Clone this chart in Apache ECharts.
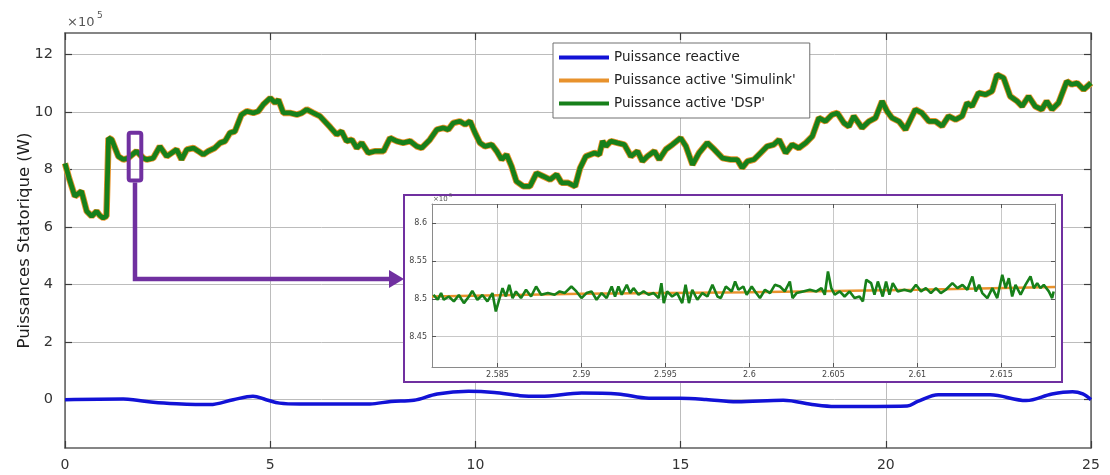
<!DOCTYPE html>
<html>
<head>
<meta charset="utf-8">
<script src="https://cdn.jsdelivr.net/npm/echarts@6/dist/echarts.min.js"></script>
<style>
  html, body { margin: 0; padding: 0; background: #ffffff; }
  #chart { width: 1110px; height: 475px; }
</style>
</head>
<body>
<div id="chart"></div>
<script>
// Stator powers, values in units of 1e5 W, time in seconds.
const seriesNames = ['Puissance reactive', "Puissance active 'Simulink'", "Puissance active 'DSP'"];

// Active power over the whole run (Simulink and DSP overlap at this scale)
const activeTime = [
  0.00, 0.10, 0.24, 0.40, 0.53, 0.65, 0.77, 0.85, 0.93, 1.01, 1.06, 1.14, 1.30, 1.42, 1.54, 1.74,
  1.91, 1.99, 2.15, 2.31, 2.48, 2.60, 2.72, 2.84, 2.97, 3.13, 3.25, 3.37, 3.49, 3.65, 3.78, 3.90,
  4.02, 4.14, 4.30, 4.43, 4.59, 4.71, 4.83, 5.00, 5.12, 5.20, 5.32, 5.48, 5.65, 5.77, 5.89, 6.05,
  6.21, 6.46, 6.62, 6.74, 6.86, 6.99, 7.11, 7.23, 7.39, 7.55, 7.76, 7.92, 8.08, 8.24, 8.41, 8.57,
  8.69, 8.89, 9.06, 9.22, 9.34, 9.46, 9.62, 9.75, 9.87, 9.99, 10.11, 10.23, 10.40, 10.52, 10.64, 10.76,
  10.88, 11.00, 11.17, 11.33, 11.49, 11.65, 11.82, 11.98, 12.10, 12.26, 12.43, 12.55, 12.69, 12.90, 13.02, 13.10,
  13.18, 13.30, 13.46, 13.63, 13.79, 13.95, 14.07, 14.19, 14.36, 14.48, 14.64, 14.80, 15.00, 15.13, 15.29, 15.45,
  15.65, 15.82, 16.02, 16.22, 16.38, 16.50, 16.63, 16.79, 16.95, 17.11, 17.27, 17.40, 17.56, 17.72, 17.88, 18.05,
  18.21, 18.37, 18.53, 18.69, 18.82, 18.98, 19.10, 19.22, 19.42, 19.59, 19.75, 19.91, 20.03, 20.15, 20.32, 20.48,
  20.72, 20.88, 21.05, 21.21, 21.37, 21.53, 21.70, 21.86, 21.98, 22.10, 22.26, 22.43, 22.59, 22.71, 22.87, 23.03,
  23.20, 23.32, 23.48, 23.64, 23.80, 23.92, 24.05, 24.21, 24.41, 24.53, 24.66, 24.82, 25.00
];
const activePower = [
  8.22, 7.70, 7.07, 7.25, 6.55, 6.38, 6.55, 6.40, 6.32, 6.38, 9.10, 9.04, 8.46, 8.35, 8.40, 8.64,
  8.40, 8.35, 8.40, 8.81, 8.46, 8.58, 8.70, 8.35, 8.70, 8.75, 8.64, 8.52, 8.64, 8.75, 8.93, 8.99,
  9.28, 9.33, 9.91, 10.03, 9.97, 10.03, 10.26, 10.49, 10.32, 10.43, 9.97, 9.97, 9.91, 9.97, 10.09, 9.97,
  9.86, 9.48, 9.22, 9.33, 8.99, 9.04, 8.75, 8.93, 8.58, 8.64, 8.64, 9.10, 8.99, 8.93, 8.99, 8.81,
  8.75, 9.04, 9.39, 9.45, 9.39, 9.62, 9.68, 9.57, 9.68, 9.28, 8.93, 8.81, 8.87, 8.64, 8.35, 8.52,
  8.12, 7.59, 7.42, 7.42, 7.88, 7.77, 7.65, 7.83, 7.54, 7.54, 7.42, 8.05, 8.46, 8.58, 8.52, 8.99,
  8.81, 8.99, 8.93, 8.87, 8.46, 8.64, 8.29, 8.46, 8.64, 8.35, 8.70, 8.87, 9.10, 8.81, 8.17, 8.58,
  8.93, 8.70, 8.40, 8.35, 8.35, 8.06, 8.29, 8.35, 8.58, 8.81, 8.87, 9.04, 8.58, 8.87, 8.75, 8.93,
  9.16, 9.80, 9.68, 9.91, 9.97, 9.62, 9.50, 9.86, 9.45, 9.68, 9.80, 10.38, 10.03, 9.80, 9.68, 9.39,
  10.09, 9.97, 9.68, 9.68, 9.51, 9.86, 9.74, 9.86, 10.32, 10.20, 10.67, 10.61, 10.73, 11.30, 11.19, 10.55,
  10.38, 10.20, 10.55, 10.20, 10.09, 10.38, 10.09, 10.32, 11.07, 10.96, 11.01, 10.78, 11.01
];

// Reactive power over the whole run
const reactiveTime = [
  0.00, 1.42, 1.66, 2.15, 2.72, 3.53, 4.10, 4.58, 4.90, 5.23, 5.72, 7.43, 7.94, 8.50, 9.07, 9.83,
  10.46, 11.09, 11.59, 12.59, 13.47, 14.23, 14.98, 15.62, 16.37, 17.50, 18.26, 18.76, 20.52, 20.78, 21.28, 22.54,
  23.42, 24.05, 24.55, 24.80, 25.00
];
const reactivePower = [
  0.00, 0.02, 0.00, -0.09, -0.14, -0.17, 0.00, 0.12, 0.00, -0.12, -0.15, -0.15, -0.06, -0.02, 0.20, 0.29,
  0.25, 0.14, 0.12, 0.23, 0.20, 0.05, 0.05, 0.01, -0.07, -0.02, -0.18, -0.24, -0.22, -0.06, 0.17, 0.17,
  -0.03, 0.20, 0.28, 0.20, 0.00
];

// Zoomed window around t = 2.6 s
const zoomSimTime = [2.5811, 2.5900, 2.6000, 2.6100, 2.6182];
const zoomSim = [8.5030, 8.5065, 8.5085, 8.5120, 8.5155];

const zoomTime = [
  2.58119, 2.58144, 2.58164, 2.58180, 2.58210, 2.58240, 2.58270, 2.58300, 2.58330, 2.58350, 2.58380, 2.58410,
  2.58440, 2.58470, 2.58490, 2.58510, 2.58530, 2.58550, 2.58570, 2.58590, 2.58610, 2.58640, 2.58670, 2.58700,
  2.58730, 2.58760, 2.58800, 2.58840, 2.58870, 2.58900, 2.58940, 2.58970, 2.59000, 2.59030, 2.59060, 2.59090,
  2.59120, 2.59150, 2.59180, 2.59200, 2.59220, 2.59240, 2.59270, 2.59290, 2.59310, 2.59340, 2.59370, 2.59400,
  2.59430, 2.59460, 2.59476, 2.59490, 2.59510, 2.59540, 2.59570, 2.59600, 2.59620, 2.59640, 2.59660, 2.59690,
  2.59720, 2.59750, 2.59780, 2.59810, 2.59830, 2.59860, 2.59895, 2.59915, 2.59935, 2.59964, 2.59984, 2.60014,
  2.60034, 2.60063, 2.60093, 2.60123, 2.60152, 2.60182, 2.60211, 2.60241, 2.60257, 2.60281, 2.60320, 2.60360,
  2.60399, 2.60429, 2.60449, 2.60468, 2.60488, 2.60508, 2.60538, 2.60567, 2.60597, 2.60626, 2.60656, 2.60676,
  2.60696, 2.60725, 2.60745, 2.60765, 2.60794, 2.60814, 2.60834, 2.60854, 2.60883, 2.60923, 2.60962, 2.60992,
  2.61022, 2.61051, 2.61081, 2.61111, 2.61140, 2.61170, 2.61209, 2.61239, 2.61269, 2.61298, 2.61328, 2.61348,
  2.61368, 2.61387, 2.61417, 2.61447, 2.61476, 2.61506, 2.61526, 2.61545, 2.61565, 2.61585, 2.61615, 2.61644,
  2.61674, 2.61694, 2.61714, 2.61733, 2.61753, 2.61783, 2.61803, 2.61812
];
const zoomDsp = [
  8.5053, 8.4987, 8.5075, 8.4987, 8.5030, 8.4965, 8.5050, 8.4943, 8.5030, 8.5105, 8.4987, 8.5050,
  8.4965, 8.5075, 8.4833, 8.4987, 8.5140, 8.5030, 8.5184, 8.5009, 8.5097, 8.5009, 8.5119, 8.5030,
  8.5162, 8.5053, 8.5075, 8.5053, 8.5097, 8.5075, 8.5162, 8.5097, 8.5009, 8.5075, 8.5097, 8.4987,
  8.5075, 8.5009, 8.5162, 8.5030, 8.5162, 8.5053, 8.5184, 8.5075, 8.5140, 8.5053, 8.5097, 8.5053,
  8.5075, 8.5009, 8.5206, 8.4943, 8.5097, 8.5030, 8.5075, 8.4943, 8.5184, 8.4943, 8.5119, 8.4987,
  8.5075, 8.5030, 8.5184, 8.5030, 8.5009, 8.5162, 8.5097, 8.5228, 8.5119, 8.5162, 8.5053, 8.5162,
  8.5097, 8.5009, 8.5119, 8.5075, 8.5184, 8.5162, 8.5097, 8.5228, 8.5009, 8.5075, 8.5097, 8.5119,
  8.5097, 8.5140, 8.5053, 8.5360, 8.5140, 8.5053, 8.5097, 8.5030, 8.5097, 8.5009, 8.5030, 8.4965,
  8.5250, 8.5206, 8.5053, 8.5228, 8.5030, 8.5228, 8.5053, 8.5206, 8.5097, 8.5119, 8.5097, 8.5184,
  8.5097, 8.5140, 8.5075, 8.5140, 8.5075, 8.5119, 8.5206, 8.5140, 8.5184, 8.5119, 8.5294, 8.5097,
  8.5184, 8.5075, 8.5009, 8.5140, 8.5009, 8.5316, 8.5140, 8.5272, 8.5030, 8.5184, 8.5053, 8.5184,
  8.5294, 8.5140, 8.5206, 8.5140, 8.5184, 8.5097, 8.5009, 8.5097
];

// Tick positions
const mainXTicks = [0, 5, 10, 15, 20, 25];
const mainYTicks = [0, 2, 4, 6, 8, 10, 12];
const zoomXTicks = [2.585, 2.59, 2.595, 2.6, 2.605, 2.61, 2.615];
const zoomYTicks = [8.45, 8.5, 8.55, 8.6];

// Region of the main trace that the inset enlarges, and the arrow level
const markTime = [1.552, 1.859];
const markPower = [7.62, 9.28];
const arrowLevel = 4.2;

const FONT = 'DejaVu Sans';
const PURPLE = '#7030a0';
const C_BLUE = '#1212d6';
const C_ORANGE = '#e8922c';
const C_GREEN = '#17801a';

const zip = (xs, ys) => xs.map((x, i) => [x, ys[i]]);

const chart = echarts.init(document.getElementById('chart'), null, { renderer: 'canvas' });

function boxAxis(gridIndex, position, extra) {
  return Object.assign({
    gridIndex, type: 'value', position,
    axisLine: { show: true, onZero: false, lineStyle: { color: '#5e5e5e', width: 1.5 } },
    axisTick: { show: true, inside: true, length: 7, lineStyle: { color: '#3c3c3c', width: 1.2 } },
    axisLabel: { show: false },
    splitLine: { show: false }
  }, extra);
}

const fmtZoom = v => String(parseFloat(Number(v).toFixed(4)));

const option = {
  animation: false,
  backgroundColor: '#ffffff',
  textStyle: { fontFamily: FONT },
  grid: [
    { left: 65, top: 33, right: 19, bottom: 27, containLabel: false },
    { left: 432, top: 204, right: 55, bottom: 108, containLabel: false }
  ],
  legend: {
    data: seriesNames,
    orient: 'vertical',
    left: 553, top: 43,
    icon: 'rect',
    itemWidth: 50, itemHeight: 4, itemGap: 8,
    padding: [7, 14, 7, 6],
    backgroundColor: '#ffffff',
    borderColor: '#707070', borderWidth: 1,
    selectedMode: false,
    textStyle: { fontFamily: FONT, fontSize: 13.5, color: '#222', lineHeight: 15 }
  },
  xAxis: [
    boxAxis(0, 'bottom', {
      min: 0, max: 25,
      axisTick: { show: true, inside: true, length: 7, customValues: mainXTicks, lineStyle: { color: '#3c3c3c', width: 1.2 } },
      axisLabel: { show: true, customValues: mainXTicks, fontSize: 14, color: '#333', margin: 10, fontFamily: FONT },
      splitLine: { show: true, lineStyle: { color: '#bcbcbc', width: 1 } }
    }),
    boxAxis(0, 'top', {
      min: 0, max: 25,
      axisTick: { show: true, inside: true, length: 7, customValues: mainXTicks, lineStyle: { color: '#3c3c3c', width: 1.2 } }
    }),
    boxAxis(1, 'bottom', {
      min: 2.5811, max: 2.6182, z: 12,
      axisLine: { show: true, onZero: false, lineStyle: { color: '#8a8a8a', width: 1 } },
      axisTick: { show: true, inside: true, length: 4, customValues: zoomXTicks, lineStyle: { color: '#555', width: 1 } },
      axisLabel: { show: true, customValues: zoomXTicks, formatter: fmtZoom, fontSize: 8, color: '#444', margin: 4, fontFamily: FONT },
      splitLine: { show: true, lineStyle: { color: '#c8c8c8', width: 1 } }
    }),
    boxAxis(1, 'top', {
      min: 2.5811, max: 2.6182, z: 12,
      axisLine: { show: true, onZero: false, lineStyle: { color: '#8a8a8a', width: 1 } },
      axisTick: { show: true, inside: true, length: 4, customValues: zoomXTicks, lineStyle: { color: '#555', width: 1 } }
    })
  ],
  yAxis: [
    boxAxis(0, 'left', {
      min: -1.68, max: 12.75,
      axisTick: { show: true, inside: true, length: 7, customValues: mainYTicks, lineStyle: { color: '#3c3c3c', width: 1.2 } },
      axisLabel: { show: true, customValues: mainYTicks, fontSize: 14.5, color: '#333', margin: 12, fontFamily: FONT },
      splitLine: { show: true, lineStyle: { color: '#bcbcbc', width: 1 } },
      name: 'Puissances Statorique (W)',
      nameLocation: 'middle', nameRotate: 90, nameGap: 32, nameMoveOverlap: false,
      nameTextStyle: { fontSize: 16.5, color: '#1e1e1e', fontFamily: FONT }
    }),
    boxAxis(0, 'right', {
      min: -1.68, max: 12.75,
      axisTick: { show: true, inside: true, length: 7, customValues: mainYTicks, lineStyle: { color: '#3c3c3c', width: 1.2 } }
    }),
    boxAxis(1, 'left', {
      min: 8.41, max: 8.625, z: 12,
      axisLine: { show: true, onZero: false, lineStyle: { color: '#8a8a8a', width: 1 } },
      axisTick: { show: true, inside: true, length: 4, customValues: zoomYTicks, lineStyle: { color: '#555', width: 1 } },
      axisLabel: { show: true, customValues: zoomYTicks, formatter: fmtZoom, fontSize: 8, color: '#444', margin: 5, fontFamily: FONT },
      splitLine: { show: true, lineStyle: { color: '#c8c8c8', width: 1 } }
    }),
    boxAxis(1, 'right', {
      min: 8.41, max: 8.625, z: 12,
      axisLine: { show: true, onZero: false, lineStyle: { color: '#8a8a8a', width: 1 } },
      axisTick: { show: true, inside: true, length: 4, customValues: zoomYTicks, lineStyle: { color: '#555', width: 1 } }
    })
  ],
  series: [
    {
      name: seriesNames[0], type: 'line', xAxisIndex: 0, yAxisIndex: 0,
      data: zip(reactiveTime, reactivePower), symbol: 'none', smooth: 0.35,
      lineStyle: { color: C_BLUE, width: 3.5 }, itemStyle: { color: C_BLUE }, z: 3
    },
    {
      name: seriesNames[1], type: 'line', xAxisIndex: 0, yAxisIndex: 0,
      data: zip(activeTime, activePower), symbol: 'none',
      lineStyle: { color: C_ORANGE, width: 6.5 }, itemStyle: { color: C_ORANGE }, z: 3
    },
    {
      name: seriesNames[2], type: 'line', xAxisIndex: 0, yAxisIndex: 0,
      data: zip(activeTime, activePower), symbol: 'none',
      lineStyle: { color: C_GREEN, width: 4.8 }, itemStyle: { color: C_GREEN }, z: 4
    },
    {
      name: seriesNames[1], type: 'line', xAxisIndex: 2, yAxisIndex: 2,
      data: zip(zoomSimTime, zoomSim), symbol: 'none',
      lineStyle: { color: C_ORANGE, width: 2.5 }, itemStyle: { color: C_ORANGE }, z: 13
    },
    {
      name: seriesNames[2], type: 'line', xAxisIndex: 2, yAxisIndex: 2,
      data: zip(zoomTime, zoomDsp), symbol: 'none',
      lineStyle: { color: C_GREEN, width: 2.6 }, itemStyle: { color: C_GREEN }, z: 14
    }
  ]
};

chart.setOption(option);

// Annotation: marker around the enlarged region, elbow arrow and inset frame
const finder = { xAxisIndex: 0, yAxisIndex: 0 };
const tl = chart.convertToPixel(finder, [markTime[0], markPower[1]]);
const br = chart.convertToPixel(finder, [markTime[1], markPower[0]]);
const yArrow = chart.convertToPixel(finder, [0, arrowLevel])[1];
const xMid = (tl[0] + br[0]) / 2;
const inset = { x: 404, y: 195, w: 658, h: 187 };

chart.setOption({
  graphic: [
    {
      type: 'rect', z: 10, silent: true,
      shape: { x: inset.x, y: inset.y, width: inset.w, height: inset.h },
      style: { fill: '#ffffff', stroke: PURPLE, lineWidth: 2 }
    },
    {
      type: 'rect', z: 20, silent: true,
      shape: { x: tl[0], y: tl[1], width: br[0] - tl[0], height: br[1] - tl[1], r: 2 },
      style: { fill: 'none', stroke: PURPLE, lineWidth: 4 }
    },
    {
      type: 'polyline', z: 20, silent: true,
      shape: { points: [[xMid, br[1] + 2], [xMid, yArrow], [inset.x - 14, yArrow]] },
      style: { fill: 'none', stroke: PURPLE, lineWidth: 4.5 }
    },
    {
      type: 'polygon', z: 20, silent: true,
      shape: { points: [[inset.x - 15, yArrow - 9], [inset.x, yArrow], [inset.x - 15, yArrow + 9]] },
      style: { fill: PURPLE }
    },
    {
      type: 'text', z: 20, silent: true, x: 67, y: 16,
      style: { text: '×10', fontFamily: FONT, fontSize: 13, fill: '#555' }
    },
    {
      type: 'text', z: 20, silent: true, x: 97, y: 11,
      style: { text: '5', fontFamily: FONT, fontSize: 9, fill: '#555' }
    },
    {
      type: 'text', z: 20, silent: true, x: 433, y: 196,
      style: { text: '×10', fontFamily: FONT, fontSize: 7, fill: '#555' }
    },
    {
      type: 'text', z: 20, silent: true, x: 449, y: 193,
      style: { text: '5', fontFamily: FONT, fontSize: 5, fill: '#555' }
    }
  ]
});
</script>
</body>
</html>
